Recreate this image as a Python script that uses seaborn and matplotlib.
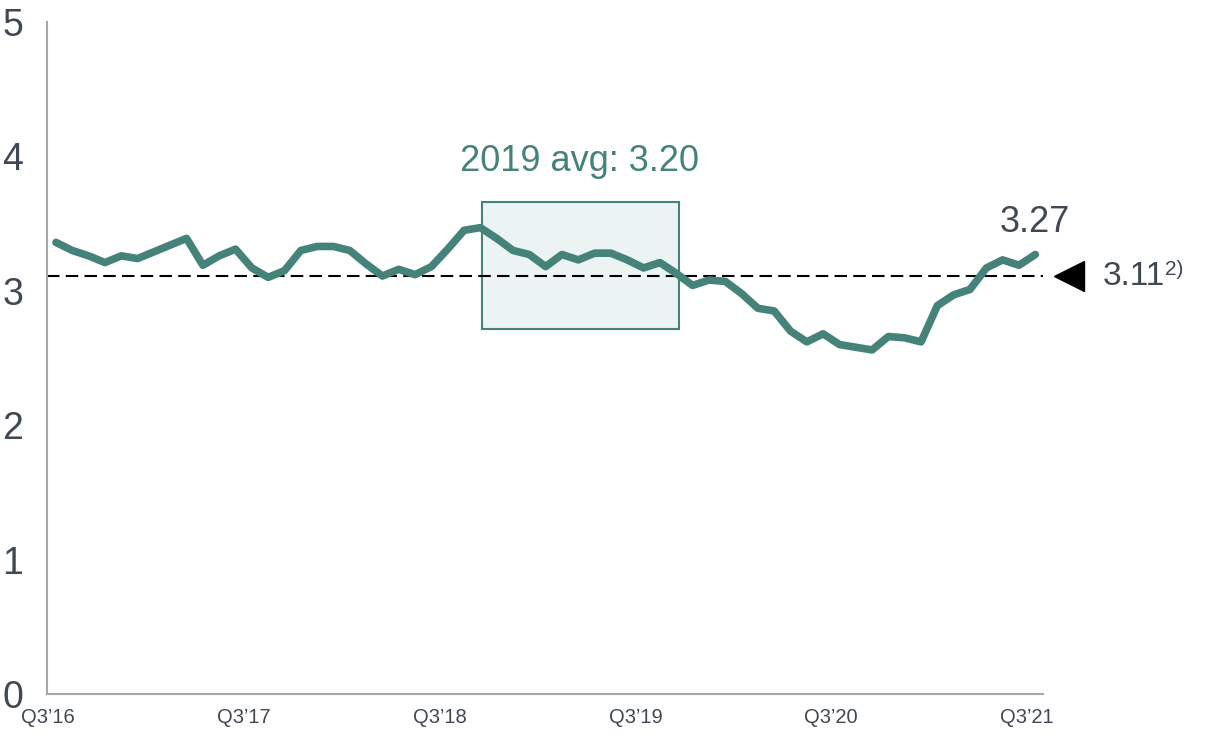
import matplotlib
matplotlib.use('Agg')
import matplotlib.pyplot as plt
from matplotlib.patches import Rectangle
import numpy as np
import pandas as pd
import seaborn as sns

# monthly index values, Q3'16 .. Q3'21
values = [3.36, 3.30, 3.26, 3.21, 3.26, 3.24, 3.29, 3.34, 3.39, 3.19,
          3.26, 3.31, 3.17, 3.10, 3.15, 3.30, 3.33, 3.33, 3.30, 3.20,
          3.11, 3.16, 3.12, 3.18, 3.31, 3.45, 3.47, 3.39, 3.30, 3.27,
          3.18, 3.27, 3.23, 3.28, 3.28, 3.23, 3.17, 3.21, 3.13, 3.04,
          3.08, 3.07, 2.98, 2.87, 2.85, 2.70, 2.62, 2.68, 2.60, 2.58,
          2.56, 2.66, 2.65, 2.62, 2.89, 2.97, 3.01, 3.17, 3.23, 3.19,
          3.27]
tick_labels = ["Q3’16", "Q3’17", "Q3’18", "Q3’19", "Q3’20", "Q3’21"]
reference_value = 3.11
avg_2019 = 3.20
last_value = values[-1]

teal = '#44827A'
grey = '#404953'

df = pd.DataFrame({'month': np.arange(len(values)), 'value': values})

sns.set_theme(style='white')
plt.rcParams['font.family'] = ['Liberation Sans', 'DejaVu Sans']

fig = plt.figure(figsize=(12.05, 7.35), dpi=100)
ax = fig.add_axes([47 / 1205, 1 - 694 / 735, (1043 - 47) / 1205, (694 - 22) / 735])

# 2019 box
ax.add_patch(Rectangle((26.1, 2.716), 12.07, 0.944, facecolor='#EBF4F2',
                       edgecolor=teal, linewidth=1.5, zorder=1))
ax.text(32.05, 3.96, f'2019 avg: {avg_2019:.2f}', color=teal, fontsize=26,
        ha='center', va='center')

ax.axhline(reference_value, color='black', linewidth=1.5,
           linestyle=(0, (6, 3)), zorder=2)

sns.lineplot(data=df, x='month', y='value', color=teal, linewidth=5.5,
             ax=ax, zorder=3)

ax.text(60, 3.51, f'{last_value:.2f}', color=grey, fontsize=26,
        ha='center', va='center')

ax.plot([62.05], [reference_value], marker='<', markersize=21, color='black',
        clip_on=False)
t = ax.text(64.1, reference_value, f'{reference_value:.2f}', color=grey,
            fontsize=24, ha='left', va='center', clip_on=False)
ax.annotate('2)', xy=(1, 0.72), xycoords=t, color=grey, fontsize=15,
            ha='left', va='center')

ax.set_xlim(-0.55, 60.47)
ax.set_ylim(0, 5)
ax.set_xticks([-0.5 + 12 * i for i in range(len(tick_labels))])
ax.set_xticklabels(tick_labels, fontsize=14.5, color=grey)
ax.set_yticks([0, 1, 2, 3, 4, 5])
ax.set_yticklabels(['0', '1', '2', '3', '4', '5'], fontsize=27, color=grey)
ax.tick_params(axis='x', length=0, pad=10)
ax.tick_params(axis='y', length=0, pad=17)
ax.set_xlabel('')
ax.set_ylabel('')

for side in ['top', 'right']:
    ax.spines[side].set_visible(False)
for side in ['left', 'bottom']:
    ax.spines[side].set_color('#A6A6A6')
    ax.spines[side].set_linewidth(1.5)

fig.savefig('out.png', dpi=100)
